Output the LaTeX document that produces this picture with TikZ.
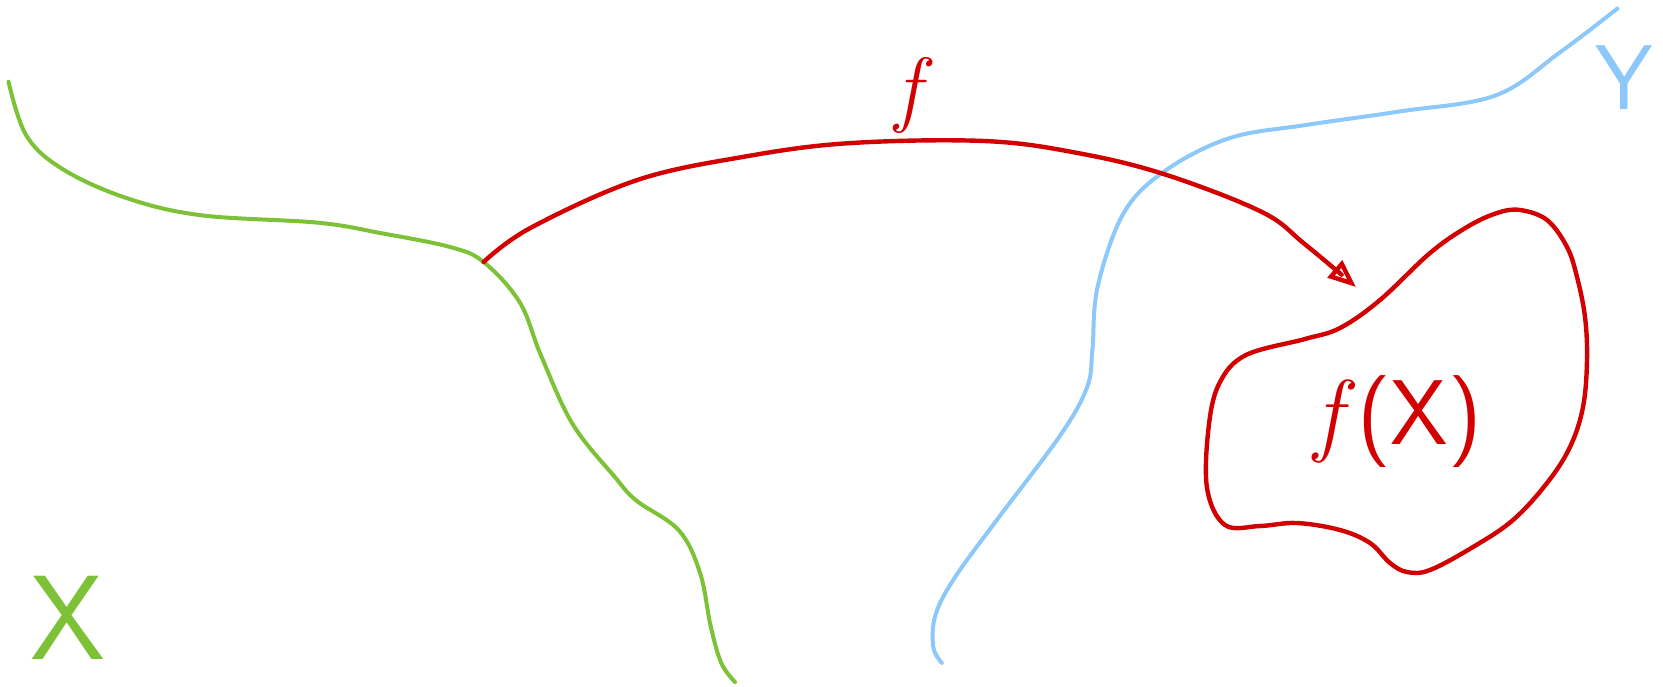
\documentclass[tikz,border=0pt]{standalone}
\usepackage{fontspec}
\usepackage{tikz}
\usetikzlibrary{arrows.meta}
\pgfdeclarelayer{edgelayer}
\pgfdeclarelayer{nodelayer}
\pgfsetlayers{edgelayer,nodelayer,main}
\definecolor{setgreen}{RGB}{125,193,55}
\definecolor{setblue}{RGB}{140,200,250}
\definecolor{mapred}{RGB}{210,0,0}
\tikzstyle{greenline}=[draw=setgreen, line width=2pt, line cap=round, line join=round]
\tikzstyle{blueline}=[draw=setblue, line width=2pt, line cap=round, line join=round]
\tikzstyle{redline}=[draw=mapred, line width=2.2pt, line cap=round, line join=round]
\tikzstyle{setlabel}=[inner sep=0pt]

\begin{document}
\begin{tikzpicture}[x=0.5pt, y=-0.5pt]
				\useasboundingbox (0,0) rectangle (1663,686);
				\begin{pgfonlayer}{nodelayer}
					\node [style=setlabel, text=setgreen] (xname) at (68,618) {\fontsize{60}{60}\selectfont\sffamily X};
					\node [style=setlabel, text=setblue] (yname) at (1624,78) {\fontsize{46}{46}\selectfont\sffamily Y};
					\node [style=setlabel, text=mapred] (fname) at (908,95) {\fontsize{42}{42}\selectfont\itshape f};
					\node [style=setlabel, text=mapred] (image) at (1398,422) {\fontsize{46}{46}\selectfont{\itshape f\,}\sffamily(X)};
					\coordinate (src) at (483.6,262);
					\coordinate (tip) at (1356,287);
				\end{pgfonlayer}
				\begin{pgfonlayer}{edgelayer}
					% the set X
					\draw [style=greenline] plot [smooth, tension=0.6] coordinates {(8.5,81.7) (26.5,135.8) (63.6,169.7) (127.3,198.3) (201.5,215.3) (318.2,222.7) (381.8,233.3) (450,247) (src) (519.7,302.3) (540.9,355.3) (572.7,424.2) (615.1,477.3) (636.4,500.6) (678.8,530.3) (700,572.7) (710.6,625.8) (721.2,662.9) (735,682)};
					% the set Y
					\draw [style=blueline] plot [smooth, tension=0.6] coordinates {(941.8,662.9) (933.3,647) (935.4,615.1) (954.5,578) (997,519.7) (1060.6,434.8) (1087.1,387.1) (1092.4,350) (1097.7,286.4) (1124.2,212.1) (1166.7,169.7) (1230.3,137.9) (1304.5,125.2) (1400,111.4) (1495.4,95.5) (1559.1,53) (1617.4,8.5)};
					% f(X)
					\draw [style=redline] plot [smooth cycle, tension=0.6] coordinates {(1305,339) (1340,328) (1380,300) (1430,253) (1467,227) (1497,213) (1520,210) (1547,220) (1567,247) (1577,277) (1585,317) (1587,360) (1583,407) (1570,447) (1547,483) (1513,520) (1473,547) (1430,570) (1407,572) (1390,563) (1370,543) (1340,530) (1297,523) (1260,526) (1225,525) (1207,488) (1209,424) (1220,382) (1246,355)};
					% the map f
					\draw [style=redline, -{Triangle[open, length=14pt, width=11pt]}] plot [smooth, tension=0.6] coordinates {(src) (530.3,228) (636.4,180.3) (742.4,157) (848.5,143.2) (986.4,141.1) (1081.8,153.8) (1166.7,175) (1262.1,212.1) (1304.5,243.9) (tip)};
				\end{pgfonlayer}
			\end{tikzpicture}
\end{document}
